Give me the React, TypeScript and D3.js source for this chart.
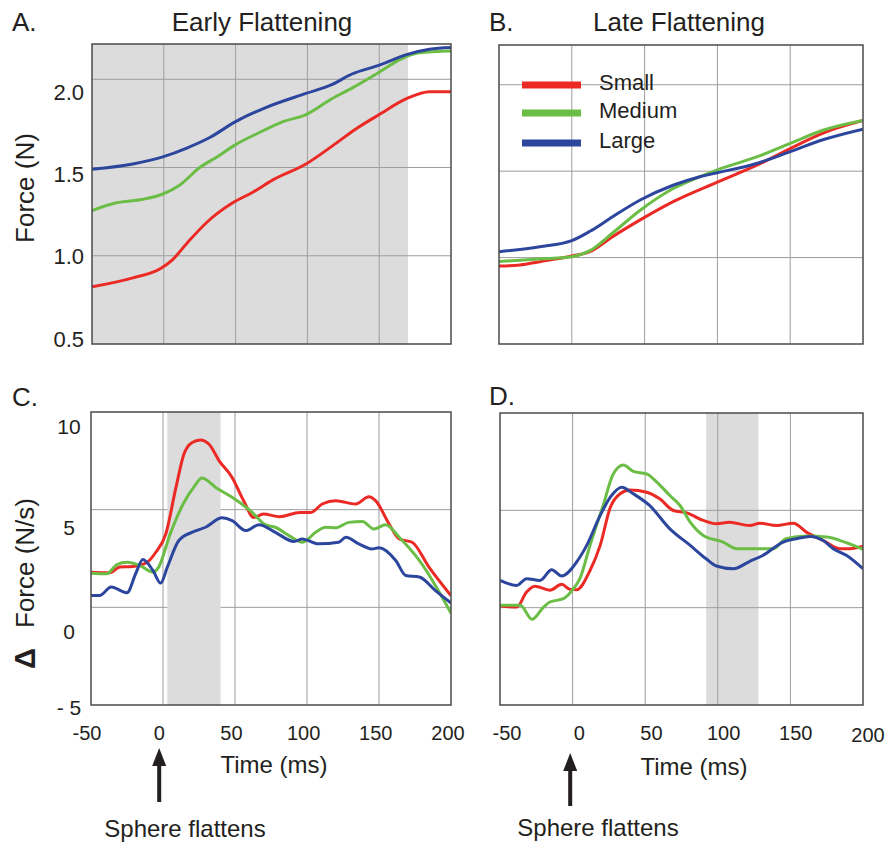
import React from "react";
import * as d3 from "d3";

type Pt = [number, number];

// ---------- shared axis / label data ----------
const timeTickValues = [-50, 0, 50, 100, 150, 200];
const timeTickLabels = ["-50", "0", "50", "100", "150", "200"];
const timeGrid = [0, 50, 100, 150];
const forceTickValues = [0.5, 1.0, 1.5, 2.0];
const forceTickLabels = ["0.5", "1.0", "1.5", "2.0"];
const forceGrid = [1.0, 1.5, 2.0];
const rateTickValues = [10, 5, 0, -5];
const rateTickLabels = ["10", "5", "0", "- 5"];
const rateGrid = [0, 5];
const seriesNames = ["Small", "Medium", "Large"];
const seriesColors = ["#ec2a25", "#6bbd46", "#2d469d"];
const earlyShade = [-50, 170];
const rateEarlyShade = [3, 40];
const rateLateShade = [92, 128];

// ---------- A. Early Flattening (Force, N) ----------
const earlySmall: Pt[] = [[-50, 0.824], [-21.5, 0.875], [-2.8, 0.925], [6, 0.977], [16, 1.07], [30, 1.19], [48, 1.3], [62, 1.36], [76, 1.43], [99, 1.52], [117, 1.62], [134, 1.72], [150, 1.8], [169, 1.89], [185, 1.93], [200, 1.93]];
const earlyMedium: Pt[] = [[-50, 1.256], [-33, 1.3], [-14.5, 1.32], [-0.7, 1.35], [11, 1.4], [25, 1.5], [37, 1.56], [50, 1.63], [67, 1.7], [83, 1.76], [99, 1.8], [117, 1.89], [131, 1.95], [150, 2.04], [164, 2.11], [178, 2.15], [200, 2.16]];
const earlyLarge: Pt[] = [[-50, 1.49], [-21.5, 1.52], [-0.7, 1.56], [16, 1.61], [32, 1.67], [50, 1.76], [71, 1.84], [99, 1.92], [117, 1.97], [131, 2.03], [150, 2.08], [169, 2.14], [185, 2.17], [200, 2.18]];

// ---------- B. Late Flattening (Force, N) ----------
const lateSmall: Pt[] = [[-50, 0.951], [-35.6, 0.957], [-22, 0.976], [0, 1.009], [12.5, 1.034], [28, 1.121], [47, 1.218], [70, 1.325], [100, 1.437], [127.5, 1.536], [150, 1.631], [173, 1.722], [200, 1.793]];
const lateMedium: Pt[] = [[-50, 0.977], [-22, 0.992], [0, 1.005], [12.5, 1.04], [28, 1.142], [47, 1.274], [70, 1.401], [88, 1.468], [100, 1.508], [127.5, 1.584], [150, 1.661], [173, 1.738], [200, 1.793]];
const lateLarge: Pt[] = [[-50, 1.034], [-22, 1.063], [0, 1.098], [12.5, 1.152], [28, 1.236], [47, 1.333], [70, 1.42], [88, 1.468], [100, 1.491], [127.5, 1.546], [150, 1.613], [173, 1.683], [200, 1.743]];

// ---------- C. Early Flattening (dForce, N/s) ----------
const rateEarlySmall: Pt[] = [[-50, 1.8], [-37, 1.77], [-30, 2.06], [-21, 2.09], [-11, 2.31], [-5, 2.82], [2, 3.77], [9, 6.14], [14.5, 7.84], [20, 8.43], [26, 8.57], [32, 8.35], [39, 7.5], [48, 6.65], [56, 5.46], [63, 4.6], [69.7, 4.78], [81, 4.64], [95, 4.86], [102.6, 4.86], [110.6, 5.29], [120, 5.46], [133.8, 5.29], [143, 5.66], [147.6, 5.46], [157, 4.27], [164, 3.5], [173, 3.33], [184.7, 2.06], [200, 0.6]];
const rateEarlyMedium: Pt[] = [[-50, 1.75], [-39, 1.72], [-32, 2.19], [-25, 2.31], [-16, 2.14], [-7, 1.8], [-3, 2.06], [5, 3.76], [14, 5.29], [22, 6.22], [27, 6.62], [36.6, 6.14], [48, 5.63], [62, 4.86], [71, 4.23], [78, 4.1], [87.5, 3.67], [97, 3.33], [106, 3.84], [113, 4.1], [120, 4.07], [129, 4.35], [138.5, 4.4], [146.5, 4.01], [154.6, 4.23], [164, 3.59], [178, 2.4], [200, -0.3]];
const rateEarlyLarge: Pt[] = [[-50, 0.61], [-44, 0.61], [-36, 1.04], [-25, 0.75], [-19, 1.72], [-14, 2.45], [-7, 1.89], [-1.6, 1.24], [3, 2.06], [11, 3.42], [20, 3.84], [29.6, 4.1], [41, 4.58], [48, 4.44], [57.4, 3.93], [66.7, 4.23], [78, 3.84], [91, 3.37], [96.7, 3.5], [108, 3.25], [122, 3.33], [127, 3.59], [136, 3.25], [145, 2.99], [150, 3.05], [161.6, 2.4], [168.6, 1.63], [178, 1.55], [189, 0.87], [200, 0.22]];

// ---------- D. Late Flattening (dForce, N/s) ----------
const rateLateSmall: Pt[] = [[-50, 0.09], [-38.5, 0.03], [-31.7, 0.8], [-26, 1.1], [-15.6, 0.9], [-7.5, 1.2], [-1.8, 0.94], [2.8, 0.92], [12, 1.91], [19, 3.2], [26, 5.16], [32.7, 5.85], [39.5, 6.05], [51, 5.93], [60, 5.59], [69.4, 4.99], [78.6, 4.87], [90, 4.48], [99, 4.31], [108, 4.39], [122, 4.22], [129, 4.34], [140.5, 4.22], [152, 4.34], [161, 3.88], [172.6, 3.45], [184, 3.03], [191, 3.03], [200, 3.16]];
const rateLateMedium: Pt[] = [[-50, 0.12], [-36, 0.12], [-28, -0.6], [-20, 0.03], [-15.6, 0.29], [-6.4, 0.46], [0.5, 0.97], [5, 1.49], [12, 3.2], [21, 5.25], [28, 6.87], [35, 7.33], [41.8, 7.0], [51, 6.87], [58, 6.45], [67, 5.76], [74, 5.25], [81, 4.39], [90, 3.71], [103.7, 3.37], [113, 3.03], [129, 3.03], [138, 3.03], [147, 3.54], [161, 3.68], [175, 3.63], [184, 3.46], [200, 3.0]];
const rateLateLarge: Pt[] = [[-50, 1.4], [-38.5, 1.14], [-31.7, 1.49], [-22.5, 1.4], [-14.4, 1.95], [-7.5, 1.63], [2.8, 2.35], [9.7, 3.2], [19, 4.74], [26, 5.68], [33.8, 6.19], [41.8, 5.85], [53, 5.25], [67, 4.05], [81, 3.2], [92, 2.51], [99, 2.14], [110.6, 2.0], [122, 2.38], [131, 2.68], [145, 3.37], [154, 3.54], [163.5, 3.66], [172.6, 3.45], [179.5, 3.03], [188.8, 2.68], [200, 2.0]];

const FONT = "'Liberation Sans', Arial, Helvetica, sans-serif";
const INK = "#231f20";

type PanelSpec = {
  id: string;
  left: number;
  right: number;
  top: number;
  bottom: number;
  yDomain: [number, number];
  hGrid: number[];
  shade: number[] | null;
  shadeOnTop: boolean;
  series: Pt[][];
};

function Panel({ p }: { p: PanelSpec }) {
  const x = d3.scaleLinear().domain([-50, 200]).range([p.left, p.right]);
  const y = d3.scaleLinear().domain(p.yDomain).range([p.bottom, p.top]);
  const line = d3
    .line<Pt>()
    .x((d) => x(d[0]))
    .y((d) => y(d[1]))
    .curve(d3.curveMonotoneX);
  const shade = p.shade ? (
    <rect
      x={x(p.shade[0])}
      y={p.top}
      width={x(p.shade[1]) - x(p.shade[0])}
      height={p.bottom - p.top}
      fill="#dcdcdc"
    />
  ) : null;
  const grid = (
    <g stroke="#9d9d9d" strokeWidth={1}>
      {timeGrid.map((t) => (
        <line key={"v" + t} x1={x(t)} x2={x(t)} y1={p.top} y2={p.bottom} />
      ))}
      {p.hGrid.map((v) => (
        <line key={"h" + v} x1={p.left} x2={p.right} y1={y(v)} y2={y(v)} />
      ))}
    </g>
  );
  return (
    <g>
      <defs>
        <clipPath id={"clip-" + p.id}>
          <rect x={p.left} y={p.top} width={p.right - p.left} height={p.bottom - p.top} />
        </clipPath>
      </defs>
      {p.shadeOnTop ? grid : shade}
      {p.shadeOnTop ? shade : grid}
      <g clipPath={`url(#clip-${p.id})`} fill="none" strokeWidth={3} strokeLinejoin="round">
        {p.series.map((s, i) => (
          <path key={i} d={line(s) || ""} stroke={seriesColors[i]} />
        ))}
      </g>
      <rect
        x={p.left}
        y={p.top}
        width={p.right - p.left}
        height={p.bottom - p.top}
        fill="none"
        stroke="#4a4a4a"
        strokeWidth={1.5}
      />
    </g>
  );
}

function Arrow({ x, top, bottom }: { x: number; top: number; bottom: number }) {
  const head = 18;
  return (
    <g fill={INK} stroke="none">
      <rect x={x - 2} y={top + head - 2} width={4} height={bottom - top - head + 2} />
      <path d={`M${x},${top} L${x + 7},${top + head} L${x - 7},${top + head} Z`} />
    </g>
  );
}

export default function App() {
  const panels: PanelSpec[] = [
    { id: "A", left: 92, right: 451, top: 44, bottom: 344, yDomain: [0.5, 2.2], hGrid: forceGrid, shade: earlyShade, shadeOnTop: false, series: [earlySmall, earlyMedium, earlyLarge] },
    { id: "B", left: 499, right: 863, top: 45, bottom: 344, yDomain: [0.5, 2.23], hGrid: forceGrid, shade: null, shadeOnTop: false, series: [lateSmall, lateMedium, lateLarge] },
    { id: "C", left: 91, right: 451, top: 412, bottom: 705, yDomain: [-5, 10], hGrid: rateGrid, shade: rateEarlyShade, shadeOnTop: true, series: [rateEarlySmall, rateEarlyMedium, rateEarlyLarge] },
    { id: "D", left: 500, right: 863, top: 413, bottom: 705, yDomain: [-5, 10], hGrid: rateGrid, shade: rateLateShade, shadeOnTop: false, series: [rateLateSmall, rateLateMedium, rateLateLarge] },
  ];

  // tick-label placement scales (labels in the original sit slightly off the gridlines)
  const forceLabelY = d3.scaleLinear().domain([0.5, 2.0]).range([339, 92]);
  const rateLabelY = d3.scaleLinear().domain([-5, 0, 5, 10]).range([708, 632, 528, 427]);
  const timeLabelXC = d3.scaleLinear().domain([-50, 200]).range([87, 448]);
  const timeLabelXD = d3.scaleLinear().domain([-50, 200]).range([507, 868]);

  const legendY = [85, 113, 143];

  return (
    <div style={{ position: "absolute", left: 0, top: 0 }}>
      <svg width={890} height={844} viewBox="0 0 890 844" style={{ display: "block", background: "#fff" }} fontFamily={FONT}>
        <rect x={0} y={0} width={890} height={844} fill="#fff" />
        {panels.map((p) => (
          <Panel key={p.id} p={p} />
        ))}

        {/* Panel letters & titles */}
        <g fill={INK} fontSize={26}>
          <text x={12} y={31}>A.</text>
          <text x={262} y={31} textAnchor="middle">Early Flattening</text>
          <text x={489} y={31}>B.</text>
          <text x={679} y={31} textAnchor="middle">Late Flattening</text>
          <text x={12} y={406}>C.</text>
          <text x={489} y={405}>D.</text>
        </g>

        {/* Y axis labels */}
        <g fill={INK} fontSize={22}>
          {forceTickValues.map((v, i) => (
            <text key={v} x={84} y={forceLabelY(v)} dy="0.35em" textAnchor="end">
              {forceTickLabels[i]}
            </text>
          ))}
        </g>
        <g fill={INK} fontSize={21}>
          {rateTickValues.map((v, i) => (
            <text key={v} x={69} y={rateLabelY(v)} dy="0.35em" textAnchor="middle">
              {rateTickLabels[i]}
            </text>
          ))}
        </g>
        <text x={0} y={0} transform="translate(34,188) rotate(-90)" textAnchor="middle" fontSize={26} fill={INK}>
          Force (N)
        </text>
        <text x={0} y={0} transform="translate(35,669) rotate(-90)" fontSize={29} fontWeight="bold" fill={INK}>
          Δ
        </text>
        <text x={0} y={0} transform="translate(34,628) rotate(-90)" fontSize={26} fill={INK}>
          Force (N/s)
        </text>

        {/* X tick labels */}
        <g fill={INK} fontSize={20} textAnchor="middle">
          {timeTickValues.map((v, i) => (
            <text key={"c" + v} x={timeLabelXC(v)} y={740}>
              {timeTickLabels[i]}
            </text>
          ))}
          {timeTickValues.map((v, i) => (
            <text key={"d" + v} x={timeLabelXD(v)} y={v === 200 ? 742 : 740}>
              {timeTickLabels[i]}
            </text>
          ))}
        </g>
        <g fill={INK} fontSize={24} textAnchor="middle">
          <text x={274} y={773}>Time (ms)</text>
          <text x={694} y={775}>Time (ms)</text>
          <text x={185} y={837}>Sphere flattens</text>
          <text x={598} y={836}>Sphere flattens</text>
        </g>
        <Arrow x={timeLabelXC(0)} top={748} bottom={802} />
        <Arrow x={timeLabelXD(0) - 9} top={753} bottom={806} />

        {/* Legend in panel B */}
        <g>
          {seriesNames.map((name, i) => (
            <g key={name}>
              <line x1={522} x2={581} y1={legendY[i]} y2={legendY[i]} stroke={seriesColors[i]} strokeWidth={7} />
              <text x={599} y={legendY[i] - 3} dy="0.35em" fontSize={22} fill={INK}>
                {name}
              </text>
            </g>
          ))}
        </g>
      </svg>
    </div>
  );
}
